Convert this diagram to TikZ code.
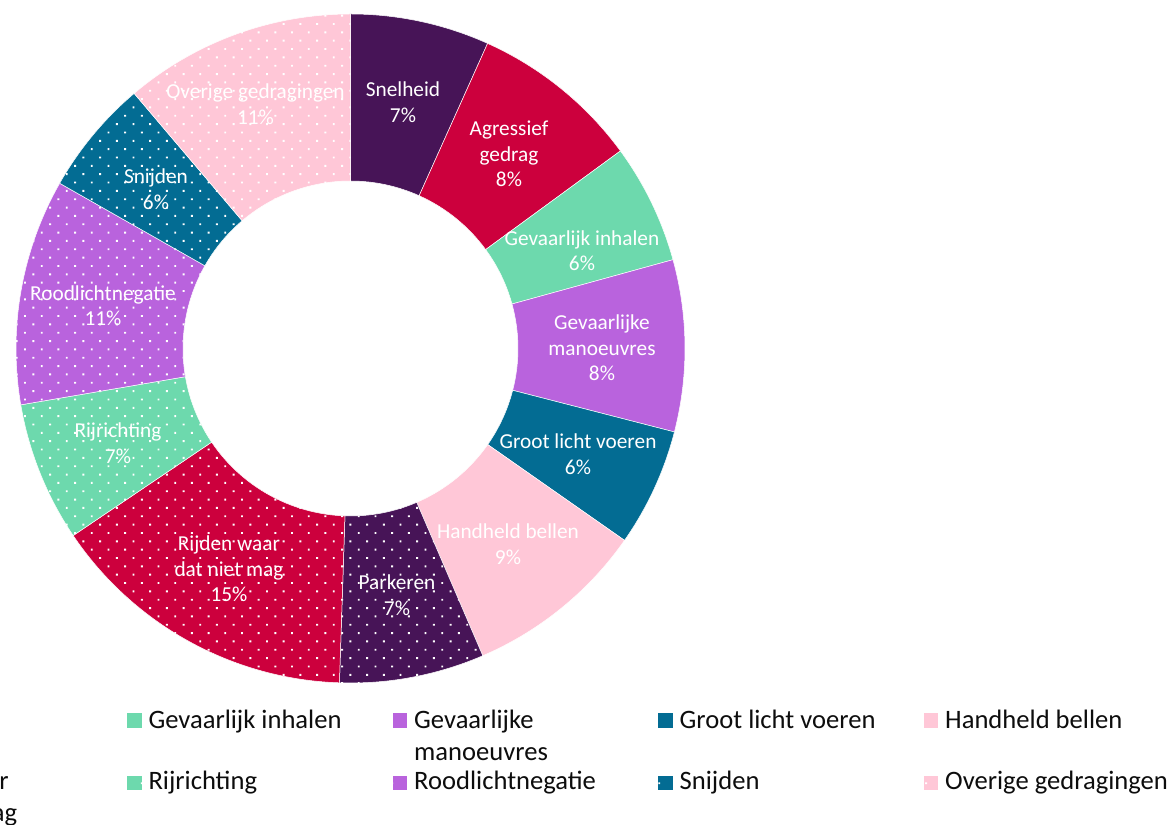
\documentclass[tikz,border=0pt]{standalone}
\usepackage{fontspec}
\setmainfont{Carlito}
\usetikzlibrary{patterns.meta}
\definecolor{cDarkPurple}{HTML}{471457}
\definecolor{cCrimson}{HTML}{CC003D}
\definecolor{cMint}{HTML}{6DD9AD}
\definecolor{cViolet}{HTML}{B963DD}
\definecolor{cTeal}{HTML}{036C93}
\definecolor{cPink}{HTML}{FFC7D7}
\definecolor{cLegText}{HTML}{0D0D0D}
\newcommand\donutslice[3]{%
  \path[#3] ({90-#1}:334.5) arc[start angle={90-#1}, end angle={90-#2}, radius=334.5]
    -- ({90-#2}:167.5) arc[start angle={90-#2}, end angle={90-#1}, radius=167.5] -- cycle;}
\newcommand\twolines[2]{\begin{tabular}[t]{@{}l@{}}#1\\#2\end{tabular}}
\begin{document}
\begin{tikzpicture}[x=1pt,y=1pt,
  plainfill/.style={fill=#1, draw=white, line width=0.5pt},
  dotfill/.style={fill=#1, draw=white, line width=0.5pt,
    postaction={pattern={Dots[distance=11.8pt,radius=1.35pt,angle=45]}, pattern color=white}},
  lbl/.style={text=white, font=\fontsize{21.3}{25.5}\selectfont, align=center, inner sep=0pt},
  legtext/.style={text=cLegText, font=\fontsize{26.6}{32}\selectfont, anchor=base west, inner sep=0pt},
  legsq/.style={minimum size=14.5pt, inner sep=0pt, draw=none}
]
\useasboundingbox (0,0) rectangle (1176,825);
\fill[white] (0,0) rectangle (1176,825);
\begin{scope}
\clip (0,0) rectangle (1176,825);
% donut
\begin{scope}[shift={(350.5,476.5)}]
\donutslice{0}{24.2}{plainfill=cDarkPurple}
\donutslice{24.2}{53.8}{plainfill=cCrimson}
\donutslice{53.8}{74.6}{plainfill=cMint}
\donutslice{74.6}{104.45}{plainfill=cViolet}
\donutslice{104.45}{125.0}{plainfill=cTeal}
\donutslice{125.0}{156.7}{plainfill=cPink}
\donutslice{156.7}{181.9}{dotfill=cDarkPurple}
\donutslice{181.9}{236.0}{dotfill=cCrimson}
\donutslice{236.0}{260.3}{dotfill=cMint}
\donutslice{260.3}{299.6}{dotfill=cViolet}
\donutslice{299.6}{319.7}{dotfill=cTeal}
\donutslice{319.7}{360}{dotfill=cPink}
\end{scope}
% slice labels
\node[lbl] (lSnelheid) at (403,723) {Snelheid\\7\%};
\node[lbl] (lAgressief) at (509,671) {Agressief\\gedrag\\8\%};
\node[lbl] (lInhalen) at (582,574.5) {Gevaarlijk inhalen\\6\%};
\node[lbl] (lManoeuvres) at (602,477) {Gevaarlijke\\manoeuvres\\8\%};
\node[lbl] (lGroot) at (578,371) {Groot licht voeren\\6\%};
\node[lbl] (lHandheld) at (508,281) {Handheld bellen\\9\%};
\node[lbl] (lParkeren) at (397,230) {Parkeren\\7\%};
\node[lbl] (lRijden) at (229,256) {Rijden waar\\dat niet mag\\15\%};
\node[lbl] (lRijrichting) at (118,382) {Rijrichting\\7\%};
\node[lbl] (lRoodlicht) at (103,519.5) {Roodlichtnegatie\\11\%};
\node[lbl] (lSnijden) at (156,636) {Snijden\\6\%};
\node[lbl] (lOverige) at (255.5,721) {Overige gedragingen\\11\%};
% legend row 1
\node[legsq, fill=cMint] (sqInhalen) at (134.7,104.3) {};
\node[legtext] (tInhalen) at (148.3,96.7) {Gevaarlijk inhalen};
\node[legsq, fill=cViolet] (sqManoeuvres) at (400.2,104.3) {};
\node[legtext] (tManoeuvres) at (414,96.7) {\twolines{Gevaarlijke}{manoeuvres}};
\node[legsq, fill=cTeal] (sqGroot) at (665.7,104.3) {};
\node[legtext] (tGroot) at (679.5,96.7) {Groot licht voeren};
\node[legsq, fill=cPink] (sqHandheld) at (931.2,104.3) {};
\node[legtext] (tHandheld) at (945,96.7) {Handheld bellen};
% legend row 2
\node[legsq, fill=cCrimson] (sqRijden) at (-130.8,42) {};
\node[legtext] (tRijden) at (-119,35) {\twolines{Rijden waar}{dat niet mag}};
\node[legsq, dotfill=cMint, draw=none] (sqRijrichting) at (134.7,42) {};
\node[legtext] (tRijrichting) at (148.3,35) {Rijrichting};
\node[legsq, dotfill=cViolet, draw=none] (sqRoodlicht) at (400.2,42) {};
\node[legtext] (tRoodlicht) at (414,35) {Roodlichtnegatie};
\node[legsq, dotfill=cTeal, draw=none] (sqSnijden) at (665.7,42) {};
\node[legtext] (tSnijden) at (679.5,35) {Snijden};
\node[legsq, dotfill=cPink, draw=none] (sqOverige) at (931.2,42) {};
\node[legtext] (tOverige) at (945,35) {Overige gedragingen};
\end{scope}
\end{tikzpicture}
\end{document}
